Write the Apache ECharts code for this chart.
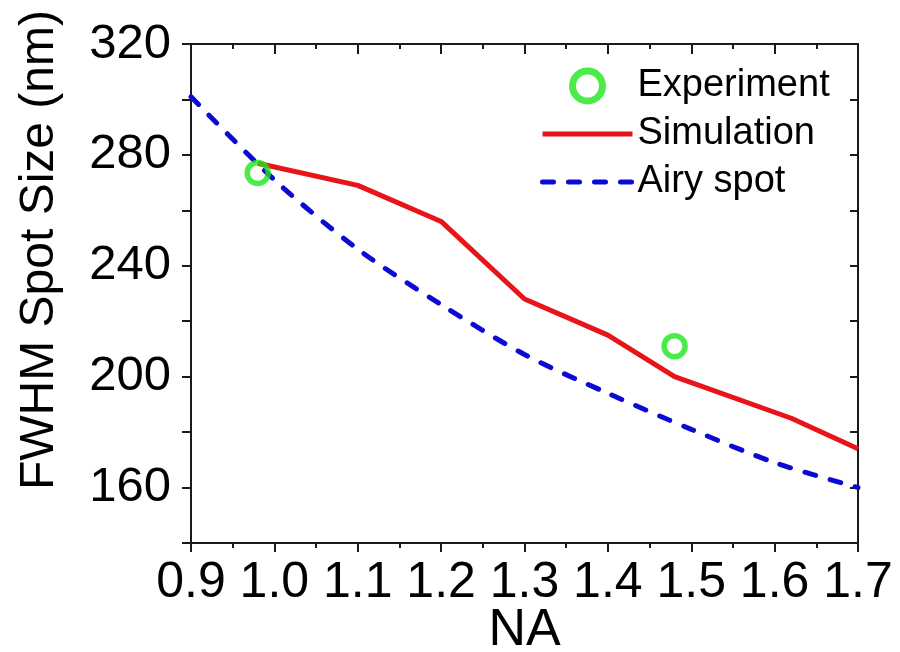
<!DOCTYPE html>
<html>
<head>
<meta charset="utf-8">
<script src="https://cdn.jsdelivr.net/npm/echarts@6/dist/echarts.min.js"></script>
<style>
  html, body { margin: 0; padding: 0; background: #fff; }
  #chart { width: 900px; height: 652px; }
</style>
</head>
<body>
<div id="chart"></div>
<script>
// ── 数据 ──
const experimentPts = [[0.98, 273.5], [1.48, 211]];
const simulationPts = [[0.98, 277], [1.1, 269], [1.2, 256], [1.3, 228], [1.4, 215], [1.48, 200], [1.62, 185], [1.7, 174]];
const airyPts = [[0.9, 301], [1.0, 271], [1.1, 246], [1.2, 226], [1.3, 208], [1.4, 194], [1.5, 181], [1.6, 169], [1.7, 160]];
const seriesNames = ['Experiment', 'Simulation', 'Airy spot'];

const COLORS = { green: '#1ee61a', red: '#e8141a', blue: '#0a0ad2', axis: '#1a1a1a' };
const FONT = "'Liberation Sans', Arial, sans-serif";
const AIRY_DASH = [11, 15];

const X_MIN = 0.9, X_MAX = 1.7, Y_MIN = 140, Y_MAX = 320;

function xAxisBase() {
  return {
    type: 'value', min: X_MIN, max: X_MAX, interval: 0.1,
    axisLine: { show: true, onZero: false, lineStyle: { color: COLORS.axis, width: 2 } },
    splitLine: { show: false },
  };
}
function yAxisBase() {
  return {
    type: 'value', min: Y_MIN, max: Y_MAX, interval: 20,
    axisLine: { show: true, onZero: false, lineStyle: { color: COLORS.axis, width: 2 } },
    splitLine: { show: false },
  };
}

const option = {
  backgroundColor: '#fff',
  animation: false,
  textStyle: { fontFamily: FONT, color: '#000' },
  grid: { left: 191, right: 42, top: 44, bottom: 109, containLabel: false, outerBoundsMode: 'none' },
  legend: {
    orient: 'vertical', left: 540, top: 66,
    padding: 0, itemGap: 8, itemWidth: 90, itemHeight: 30,
    textStyle: { fontFamily: FONT, fontSize: 38, color: '#000', lineHeight: 40 },
    data: [
      { name: seriesNames[0], itemStyle: { color: '#fff', borderColor: COLORS.green, borderWidth: 7 } },
      { name: seriesNames[1], itemStyle: { opacity: 0 }, lineStyle: { color: COLORS.red, width: 5 } },
      { name: seriesNames[2], itemStyle: { opacity: 0 }, lineStyle: { color: COLORS.blue, width: 5, type: AIRY_DASH, cap: 'round' } },
    ],
  },
  xAxis: [
    Object.assign(xAxisBase(), {
      position: 'bottom',
      name: 'NA', nameLocation: 'middle', nameGap: 62, nameMoveOverlap: false,
      nameTextStyle: { fontFamily: FONT, fontSize: 52, color: '#000' },
      axisTick: { show: true, inside: false, length: 9, lineStyle: { color: COLORS.axis, width: 2 } },
      minorTick: { show: true, splitNumber: 2, length: 5, lineStyle: { color: COLORS.axis, width: 2 } },
      axisLabel: { fontFamily: FONT, fontSize: 50, color: '#000', margin: 15, formatter: (v) => v.toFixed(1) },
    }),
    Object.assign(xAxisBase(), {
      position: 'top',
      axisTick: { show: true, inside: true, length: 10, lineStyle: { color: COLORS.axis, width: 2 } },
      minorTick: { show: true, splitNumber: 2, length: 5, lineStyle: { color: COLORS.axis, width: 2 } },
      axisLabel: { show: false },
    }),
  ],
  yAxis: [
    Object.assign(yAxisBase(), {
      position: 'left',
      axisTick: { show: true, inside: false, length: 9, lineStyle: { color: COLORS.axis, width: 2 } },
      axisLabel: {
        fontFamily: FONT, fontSize: 49, color: '#000', margin: 20,
        formatter: (v) => (v % 40 === 0 ? String(v) : ''),
      },
    }),
    Object.assign(yAxisBase(), {
      position: 'right',
      axisTick: { show: true, inside: true, length: 8, lineStyle: { color: COLORS.axis, width: 2 } },
      axisLabel: { show: false },
    }),
  ],
  graphic: [{
    type: 'text', x: 40, y: 250, rotation: Math.PI / 2,
    style: {
      text: 'FWHM Spot Size (nm)', fontFamily: FONT, fontSize: 48, fill: '#000',
      align: 'center', verticalAlign: 'middle',
    },
  }],
  series: [
    {
      name: 'Airy spot', type: 'line', data: airyPts, smooth: 0.3,
      showSymbol: false, symbol: 'none', z: 2,
      lineStyle: { color: COLORS.blue, width: 5, type: AIRY_DASH, cap: 'round' },
      itemStyle: { color: COLORS.blue },
    },
    {
      name: 'Simulation', type: 'line', data: simulationPts,
      showSymbol: false, symbol: 'none', z: 3,
      lineStyle: { color: COLORS.red, width: 5, join: 'round' },
      itemStyle: { color: COLORS.red },
    },
    {
      name: 'Experiment', type: 'scatter', data: experimentPts, z: 4,
      symbol: 'circle', symbolSize: 21,
      itemStyle: { color: 'rgba(255,255,255,0)', borderColor: COLORS.green, borderWidth: 5.5 },
    },
  ],
};

const chart = echarts.init(document.getElementById('chart'));
chart.setOption(option);
</script>
</body>
</html>
